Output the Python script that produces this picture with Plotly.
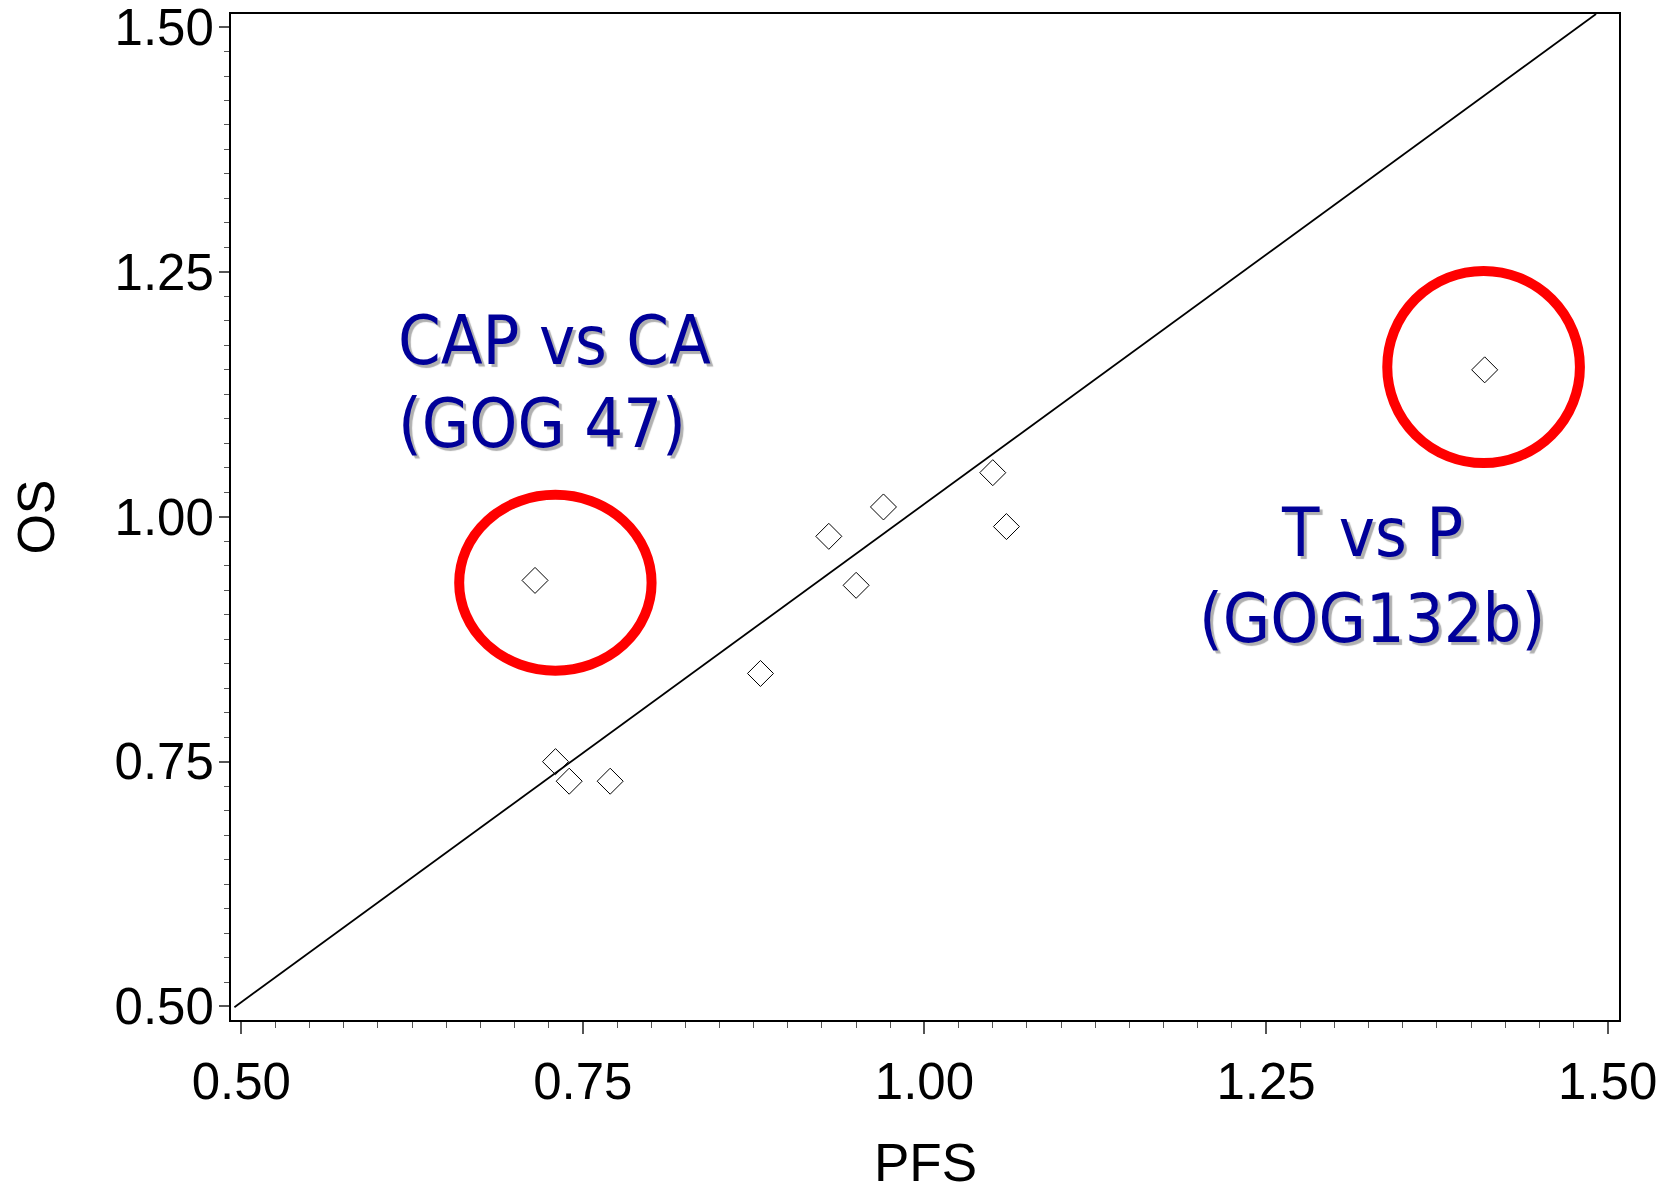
import plotly.graph_objects as go

# Data
pfs = [0.715, 0.73, 0.74, 0.77, 0.88, 0.93, 0.95, 0.97, 1.05, 1.06, 1.41]
os_ = [0.935, 0.75, 0.73, 0.73, 0.84, 0.98, 0.93, 1.01, 1.045, 0.99, 1.15]

# Reference (equality) line end points as drawn
ref_x = [0.495, 1.4915]
ref_y = [0.4993, 1.5133]

tick_start = 0.5
tick_step = 0.25
minor_step = 0.025

# Highlight ellipses (x0, x1, y0, y1)
circle_left = [0.6595, 0.8003, 0.8429, 1.0224]
circle_right = [1.3387, 1.4797, 1.0548, 1.251]

# Annotation labels
label_left = ["CAP vs CA", "(GOG 47)"]
label_right = ["T vs P", "(GOG132b)"]
x_title = "PFS"
y_title = "OS"

ann_font = dict(family="DejaVu Sans Condensed, DejaVu Sans, Verdana, sans-serif",
                size=68, color="#000099", shadow="3px 3px 1px #b0b0b0")
axis_font = "Liberation Sans, Arial, Helvetica, sans-serif"

fig = go.Figure()
fig.add_trace(go.Scatter(x=ref_x, y=ref_y, mode="lines",
                         line=dict(color="black", width=1.8),
                         showlegend=False, hoverinfo="skip"))
fig.add_trace(go.Scatter(x=pfs, y=os_, mode="markers",
                         marker=dict(symbol="diamond-open", size=20, color="black",
                                     line=dict(width=1, color="black")),
                         showlegend=False))

for c in (circle_left, circle_right):
    fig.add_shape(type="circle", xref="x", yref="y",
                  x0=c[0], x1=c[1], y0=c[2], y1=c[3],
                  line=dict(color="#ff0000", width=10))

# left labels (left aligned)
fig.add_annotation(x=0.6135, y=1.1796, xref="x", yref="y", text=label_left[0],
                   showarrow=False, xanchor="left", yanchor="middle", font=ann_font)
fig.add_annotation(x=0.6135, y=1.095, xref="x", yref="y", text=label_left[1],
                   showarrow=False, xanchor="left", yanchor="middle", font=ann_font)
# right labels (centered)
fig.add_annotation(x=1.3273, y=0.9837, xref="x", yref="y", text=label_right[0],
                   showarrow=False, xanchor="center", yanchor="middle", font=ann_font)
fig.add_annotation(x=1.3273, y=0.8959, xref="x", yref="y", text=label_right[1],
                   showarrow=False, xanchor="center", yanchor="middle", font=ann_font)

# x-axis title placed as a paper annotation (sits close to the bottom edge)
fig.add_annotation(x=0.5, y=0, xref="paper", yref="paper", yshift=-142,
                   text=x_title, showarrow=False, xanchor="center", yanchor="middle",
                   font=dict(family=axis_font, size=53, color="black"))

common_axis = dict(
    showline=True, mirror=True, linecolor="black", linewidth=2,
    showgrid=False, zeroline=False,
    ticks="outside", tickcolor="#555555", tickwidth=1.5,
    tickmode="linear", tick0=tick_start, dtick=tick_step, tickformat=".2f",
    ticklabeloverflow="allow",
    tickfont=dict(family=axis_font, size=51, color="black"),
    minor=dict(ticks="outside", dtick=minor_step, tick0=tick_start, tickcolor="#555555",
               tickwidth=1.2, showgrid=False),
)

fig.update_xaxes(**common_axis, range=[0.4925, 1.5083], ticklen=12,
                 minor_ticklen=6, ticklabelstandoff=4)
fig.update_yaxes(**common_axis, range=[0.4862, 1.5133], ticklen=10,
                 minor_ticklen=5, ticklabelstandoff=-5,
                 title=dict(text=y_title, font=dict(family=axis_font, size=52, color="black"),
                            standoff=43))

fig.update_layout(width=1667, height=1193,
                  margin=dict(l=231, r=48, t=14, b=173, autoexpand=False),
                  plot_bgcolor="white", paper_bgcolor="white")

fig.write_html("out.html")
